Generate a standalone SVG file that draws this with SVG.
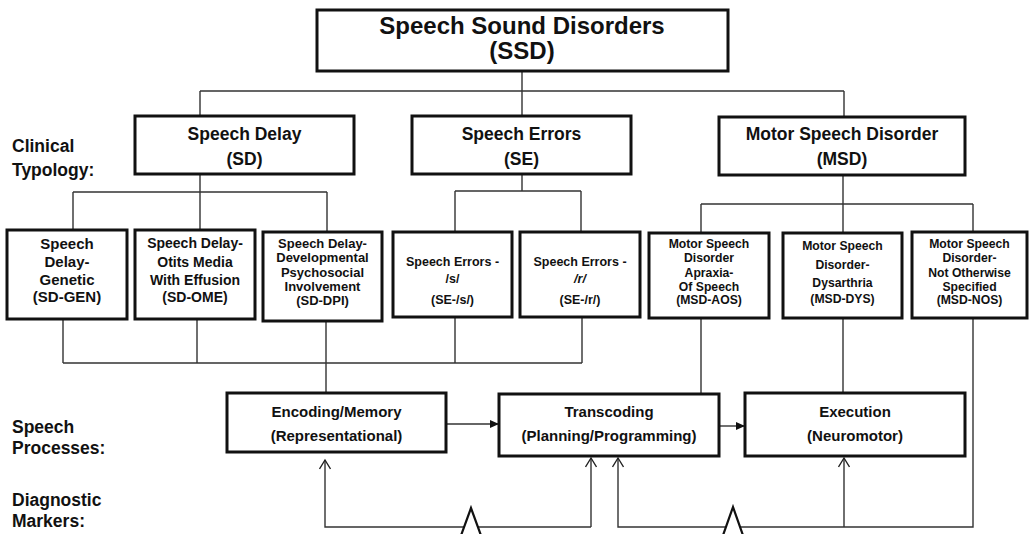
<svg xmlns="http://www.w3.org/2000/svg" width="1031" height="534" viewBox="0 0 1031 534">
<defs>
<style>
text{font-family:"Liberation Sans",Arial,sans-serif;font-weight:bold;fill:#111;text-anchor:middle}
.box{fill:#fff;stroke:#111;stroke-width:3}
.ln{fill:none;stroke:#333;stroke-width:1.4}
.t1{font-size:24px}
.t2{font-size:17.5px}
.t3{font-size:15px}
.t3b{font-size:14px}
.t3c{font-size:13px}
.t3e{font-size:12.5px}
.t3d{font-size:12.2px}
.tp{font-size:15px}
.lab{font-size:17.5px;text-anchor:start}
.tri{fill:#fff;stroke:#111;stroke-width:2.2;stroke-linejoin:miter}
</style>
<marker id="fa" markerWidth="9" markerHeight="8" refX="9" refY="4" orient="auto" markerUnits="userSpaceOnUse">
<path d="M0,0 L9,4 L0,8 Z" fill="#111"/>
</marker>
<marker id="oa" markerWidth="12" markerHeight="12" refX="10" refY="6" orient="auto" markerUnits="userSpaceOnUse">
<path d="M1,0.5 L10,6 L1,11.5" fill="none" stroke="#222" stroke-width="1.4"/>
</marker>
</defs>
<rect width="1031" height="534" fill="#fff"/>

<g id="connectors">
<path class="ln" d="M522,71 V91 M200,91 H844 M200,91 V116 M522,91 V116 M844,91 V117"/>
<path class="ln" d="M200,174 V192 M73,192 H327 M73,192 V230 M200,192 V230 M327,192 V232"/>
<path class="ln" d="M522,174 V191 M455,191 H581 M455,191 V232 M581,191 V232"/>
<path class="ln" d="M843,175 V204 M701,204 H973 M701,204 V233 M843,204 V233 M973,204 V232"/>
<path class="ln" d="M63,319 V363 M197,319 V363 M326,321 V363 M455,317 V363 M582,317 V363 M63,363 H582 M326,363 V393"/>
<path class="ln" d="M701,318 V394 M843,318 V393"/>
<path class="ln" d="M446,424 H499" marker-end="url(#fa)"/>
<path class="ln" d="M719,426 H745" marker-end="url(#fa)"/>
<path class="ln" d="M591,527 H325 V460" marker-end="url(#oa)"/>
<path class="ln" d="M591,527 V458" marker-end="url(#oa)"/>
<path class="ln" d="M973,318 V527 H618 V458" marker-end="url(#oa)"/>
<path class="ln" d="M844,527 V458" marker-end="url(#oa)"/>
<polygon class="tri" points="471,508 459,541 483,541"/>
<polygon class="tri" points="733,507 721,541 745,541"/>
</g>

<g id="labels">
<text class="lab" x="12" y="152">Clinical</text>
<text class="lab" x="12" y="176">Typology:</text>
<text class="lab" x="12" y="433">Speech</text>
<text class="lab" x="12" y="454">Processes:</text>
<text class="lab" x="12" y="506">Diagnostic</text>
<text class="lab" x="12" y="527">Markers:</text>
</g>

<g id="ssd">
<rect class="box" x="317" y="10" width="411" height="61"/>
<text class="t1" x="522" y="34">Speech Sound Disorders</text>
<text class="t1" x="522" y="59">(SSD)</text>
</g>

<g id="sd">
<rect class="box" x="135" y="116" width="219" height="58"/>
<text class="t2" x="244.5" y="140">Speech Delay</text>
<text class="t2" x="244.5" y="165">(SD)</text>
</g>
<g id="se">
<rect class="box" x="412" y="116" width="219" height="58"/>
<text class="t2" x="521.5" y="140">Speech Errors</text>
<text class="t2" x="521.5" y="165">(SE)</text>
</g>
<g id="msd">
<rect class="box" x="719" y="117" width="246" height="58"/>
<text class="t2" x="842" y="140">Motor Speech Disorder</text>
<text class="t2" x="842" y="165">(MSD)</text>
</g>

<g id="sd-gen">
<rect class="box" x="7" y="230" width="120" height="89"/>
<text class="t3" x="67" y="249">Speech</text>
<text class="t3" x="67" y="267">Delay-</text>
<text class="t3" x="67" y="285">Genetic</text>
<text class="t3" x="67" y="302">(SD-GEN)</text>
</g>
<g id="sd-ome">
<rect class="box" x="135" y="230" width="120" height="89"/>
<text class="t3b" x="195" y="248">Speech Delay-</text>
<text class="t3b" x="195" y="267">Otits Media</text>
<text class="t3b" x="195" y="285">With Effusion</text>
<text class="t3b" x="195" y="302">(SD-OME)</text>
</g>
<g id="sd-dpi">
<rect class="box" x="263" y="232" width="119" height="89"/>
<text class="t3c" x="322.5" y="248">Speech Delay-</text>
<text class="t3c" x="322.5" y="262">Developmental</text>
<text class="t3c" x="322.5" y="277">Psychosocial</text>
<text class="t3c" x="322.5" y="291">Involvement</text>
<text class="t3c" x="322.5" y="305">(SD-DPI)</text>
</g>
<g id="se-s">
<rect class="box" x="393" y="232" width="119" height="85"/>
<text class="t3e" x="452.5" y="266">Speech Errors -</text>
<text class="t3e" x="452.5" y="283">/s/</text>
<text class="t3e" x="452.5" y="304">(SE-/s/)</text>
</g>
<g id="se-r">
<rect class="box" x="520" y="232" width="120" height="85"/>
<text class="t3e" x="580" y="266">Speech Errors -</text>
<text class="t3e" x="580" y="283" font-style="italic">/r/</text>
<text class="t3e" x="580" y="304">(SE-/r/)</text>
</g>
<g id="msd-aos">
<rect class="box" x="649" y="233" width="120" height="85"/>
<text class="t3d" x="709" y="248">Motor Speech</text>
<text class="t3d" x="709" y="262">Disorder</text>
<text class="t3d" x="709" y="277">Apraxia-</text>
<text class="t3d" x="709" y="291">Of Speech</text>
<text class="t3d" x="709" y="304">(MSD-AOS)</text>
</g>
<g id="msd-dys">
<rect class="box" x="783" y="233" width="119" height="85"/>
<text class="t3d" x="842.5" y="250">Motor Speech</text>
<text class="t3d" x="842.5" y="269">Disorder-</text>
<text class="t3d" x="842.5" y="287">Dysarthria</text>
<text class="t3d" x="842.5" y="303">(MSD-DYS)</text>
</g>
<g id="msd-nos">
<rect class="box" x="912" y="232" width="115" height="86"/>
<text class="t3d" x="969.5" y="248">Motor Speech</text>
<text class="t3d" x="969.5" y="262">Disorder-</text>
<text class="t3d" x="969.5" y="277">Not Otherwise</text>
<text class="t3d" x="969.5" y="291">Specified</text>
<text class="t3d" x="969.5" y="304">(MSD-NOS)</text>
</g>

<g id="encoding">
<rect class="box" x="227" y="393" width="219" height="59"/>
<text class="tp" x="336.5" y="417">Encoding/Memory</text>
<text class="tp" x="336.5" y="441">(Representational)</text>
</g>
<g id="transcoding">
<rect class="box" x="499" y="394" width="220" height="62"/>
<text class="tp" x="609" y="417">Transcoding</text>
<text class="tp" x="609" y="441">(Planning/Programming)</text>
</g>
<g id="execution">
<rect class="box" x="745" y="393" width="220" height="63"/>
<text class="tp" x="855" y="417">Execution</text>
<text class="tp" x="855" y="441">(Neuromotor)</text>
</g>
</svg>
